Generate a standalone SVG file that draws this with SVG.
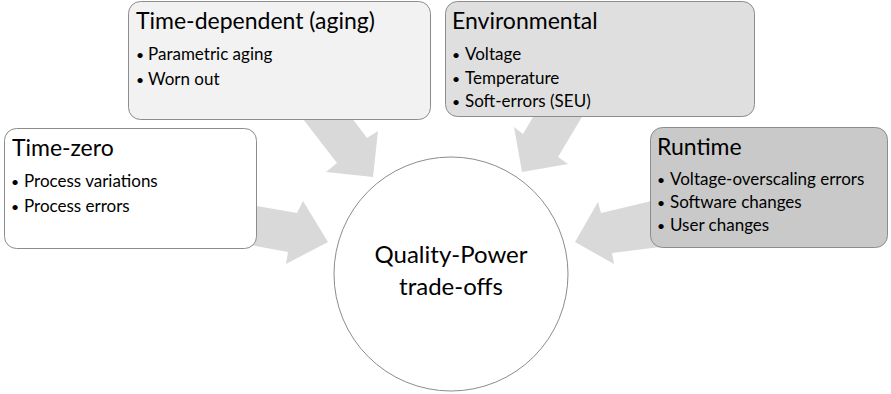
<svg xmlns="http://www.w3.org/2000/svg" width="891" height="394" viewBox="0 0 891 394">
<style>
.box{stroke:#8c8c8c;stroke-width:1}
.arrow{fill:#d9d9d9;stroke:none}
text{font-family:Lato,"Liberation Sans",sans-serif;fill:#000}
.title{font-size:23px}
.item{font-size:17px}
.bul{font-size:14px}
.center{font-size:24px;text-anchor:middle}
</style>
<rect width="891" height="394" fill="#fff"/>
<g id="connectors">
<polygon class="arrow" points="240,203 297,213 303,201 328,242 286,264 288,252 240,243"/>
<polygon class="arrow" points="296,110 346,110 367,138 378,131 373,177 326,172 337,163"/>
<polygon class="arrow" points="540,105 589,105 558,157 568,164 522,172 514,127 523,134"/>
<polygon class="arrow" points="660,199 601,213 598,202 575,242 614,264 612,253 660,247"/>
</g>
<g id="center">
<circle cx="451" cy="274" r="117" fill="#fff" stroke="#8c8c8c" stroke-width="1"/>
<text class="center" x="451" y="263">Quality-Power</text>
<text class="center" x="451" y="295">trade-offs</text>
</g>
<g id="time-zero">
<rect class="box" x="4.5" y="128.5" width="252" height="120" rx="12" fill="#ffffff"/>
<text class="title" x="12" y="156">Time-zero</text>
<text class="bul" x="11" y="187">•</text><text class="item" x="24" y="187">Process variations</text>
<text class="bul" x="11" y="212">•</text><text class="item" x="24" y="212">Process errors</text>
</g>
<g id="time-dependent">
<rect class="box" x="128.5" y="1.5" width="302" height="118" rx="12" fill="#f2f2f2"/>
<text class="title" x="136" y="29">Time-dependent (aging)</text>
<text class="bul" x="136" y="60">•</text><text class="item" x="148" y="60">Parametric aging</text>
<text class="bul" x="136" y="85">•</text><text class="item" x="148" y="85">Worn out</text>
</g>
<g id="environmental">
<rect class="box" x="445.5" y="1.5" width="309" height="115" rx="12" fill="#dfdfdf"/>
<text class="title" x="452" y="29">Environmental</text>
<text class="bul" x="452" y="60">•</text><text class="item" x="465" y="60">Voltage</text>
<text class="bul" x="452" y="84">•</text><text class="item" x="465" y="84">Temperature</text>
<text class="bul" x="452" y="107">•</text><text class="item" x="465" y="107">Soft-errors (SEU)</text>
</g>
<g id="runtime">
<rect class="box" x="650.5" y="127.5" width="237" height="120" rx="12" fill="#c9c9c9"/>
<text class="title" x="657" y="155">Runtime</text>
<text class="bul" x="657" y="185">•</text><text class="item" x="670" y="185">Voltage-overscaling errors</text>
<text class="bul" x="657" y="208">•</text><text class="item" x="670" y="208">Software changes</text>
<text class="bul" x="657" y="231">•</text><text class="item" x="670" y="231">User changes</text>
</g>
</svg>
